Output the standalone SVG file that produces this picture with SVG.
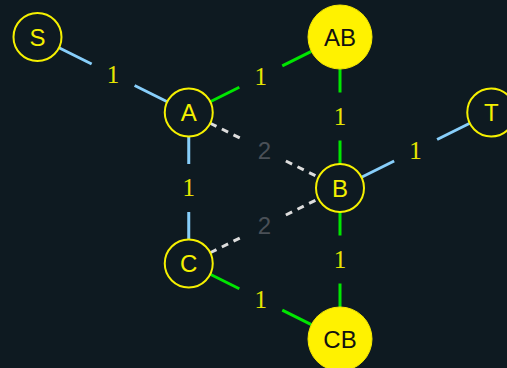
<svg xmlns="http://www.w3.org/2000/svg" width="507" height="368" viewBox="0 0 507 368">
  <style>
    .edge { fill: none; stroke-width: 3; stroke-linecap: butt; }
    .blue { stroke: #87cefa; }
    .green { stroke: #00e600; }
    .dash { stroke: #dddddd; stroke-dasharray: 7 6; }
    .wt { font-family: "Liberation Serif", "Times New Roman", serif; font-size: 25px; fill: #e6e600; text-anchor: middle; }
    .wt2 { font-family: "Liberation Sans", Arial, sans-serif; font-size: 24px; fill: #4a5057; text-anchor: middle; }
    .node { fill: #0e1a21; stroke: #f5f000; stroke-width: 2; }
    .node-hi { fill: #fff200; stroke: #f5e800; stroke-width: 1; }
    .lbl { font-family: "Liberation Sans", Arial, sans-serif; font-size: 24px; fill: #f5f000; text-anchor: middle; }
    .lbl-hi { font-family: "Liberation Sans", Arial, sans-serif; font-size: 24px; fill: #111111; text-anchor: middle; }
  </style>
  <rect width="507" height="368" fill="#0e1a21"/>

  <g id="edges">
    <!-- S - A -->
    <path class="edge blue" d="M58.97 47.72 L91.66 64.03 M134.6 85.47 L167.28 101.78"/>
    <text class="wt" x="113.1" y="83">1</text>
    <!-- A - AB -->
    <path class="edge green" d="M210.22 101.78 L239.33 87.26 M282.27 65.82 L311.37 51.29"/>
    <text class="wt" x="260.8" y="84.8">1</text>
    <!-- A - B -->
    <path class="edge dash" d="M210.22 123.22 L242.9 139.53 M285.85 160.97 L318.53 177.28"/>
    <text class="wt2" x="264.4" y="158.8">2</text>
    <!-- A - C -->
    <path class="edge blue" d="M188.75 136.5 L188.75 164 M188.75 212 L188.75 239.5"/>
    <text class="wt" x="188.75" y="196.3">1</text>
    <!-- AB - B -->
    <path class="edge green" d="M340 69 L340 92.5 M340 140.5 L340 164"/>
    <text class="wt" x="340" y="124.8">1</text>
    <!-- B - T -->
    <path class="edge blue" d="M361.47 177.28 L394.16 160.97 M437.1 139.53 L469.78 123.22"/>
    <text class="wt" x="415.6" y="158.5">1</text>
    <!-- C - B -->
    <path class="edge dash" d="M210.22 252.78 L242.9 236.47 M285.85 215.03 L318.53 198.72"/>
    <text class="wt2" x="264.4" y="234.3">2</text>
    <!-- B - CB -->
    <path class="edge green" d="M340 212 L340 235.5 M340 283.5 L340 307"/>
    <text class="wt" x="340" y="267.8">1</text>
    <!-- C - CB -->
    <path class="edge green" d="M210.22 274.22 L239.33 288.75 M282.27 310.19 L311.37 324.71"/>
    <text class="wt" x="260.8" y="307.8">1</text>
  </g>

  <g id="S"><circle class="node" cx="37.5" cy="37" r="24"/><text class="lbl" x="37.5" y="45.6">S</text></g>
  <g id="A"><circle class="node" cx="188.75" cy="112.5" r="24"/><text class="lbl" x="188.75" y="121.1">A</text></g>
  <g id="AB"><circle class="node-hi" cx="340" cy="37" r="32"/><text class="lbl-hi" x="340" y="45.6">AB</text></g>
  <g id="T"><circle class="node" cx="491.25" cy="112.5" r="24"/><text class="lbl" x="491.25" y="121.1">T</text></g>
  <g id="B"><circle class="node" cx="340" cy="188" r="24"/><text class="lbl" x="340" y="196.6">B</text></g>
  <g id="C"><circle class="node" cx="188.75" cy="263.5" r="24"/><text class="lbl" x="188.75" y="272.1">C</text></g>
  <g id="CB"><circle class="node-hi" cx="340" cy="339" r="32"/><text class="lbl-hi" x="340" y="347.6">CB</text></g>
</svg>
